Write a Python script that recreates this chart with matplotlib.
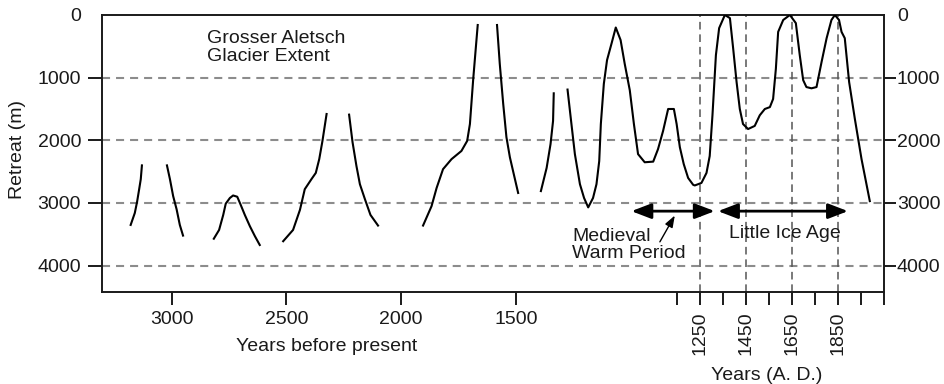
import matplotlib
matplotlib.use("Agg")
import matplotlib.pyplot as plt

plt.rcParams['font.family'] = ['Liberation Sans', 'DejaVu Sans']
plt.rcParams['font.size'] = 14
plt.rcParams['lines.scale_dashes'] = False

# glacier front retreat (m) vs calendar year (negative = BC), drawn as separate pieces
year_1 = [-1228, -1210, -1200, -1191, -1184, -1179]
retreat_1 = [3350, 3160, 2980, 2780, 2620, 2400]

year_2 = [-1070, -1057, -1043, -1028, -1014, -1000]
retreat_2 = [2400, 2620, 2890, 3100, 3350, 3520]

year_3 = [-866, -843, -825, -814, -796, -782, -764, -750, -731, -709, -687, -666]
retreat_3 = [3570, 3430, 3190, 3010, 2920, 2880, 2900, 3020, 3190, 3370, 3530, 3670]

year_4 = [-564, -521, -491, -470, -441, -422, -407, -393, -375]
retreat_4 = [3610, 3430, 3110, 2780, 2620, 2520, 2300, 2010, 1580]

year_5 = [-277, -262, -245, -230, -208, -184, -151]
retreat_5 = [1590, 2030, 2410, 2700, 2940, 3190, 3360]

year_6 = [45, 82, 104, 132, 169, 212, 237, 249, 263, 275, 283]
retreat_6 = [3360, 3050, 2760, 2460, 2300, 2170, 2010, 1740, 1040, 510, 160]

year_7 = [367, 379, 394, 408, 423, 440, 459]
retreat_7 = [160, 780, 1420, 1950, 2270, 2540, 2840]

year_8 = [558, 583, 600, 611, 614]
retreat_8 = [2810, 2440, 2060, 1690, 1250]

year_9 = [674, 691, 706, 728, 746, 764, 785, 800, 812, 819,
          832, 846, 866, 884, 905, 923, 945, 963, 981, 1010,
          1047, 1068, 1090, 1112, 1137, 1149, 1163, 1180, 1199, 1221,
          1228, 1257, 1279, 1293, 1305, 1320, 1334, 1359, 1381, 1395,
          1410, 1424, 1438, 1460, 1489, 1511, 1533, 1555, 1569, 1581,
          1591, 1613, 1642, 1668, 1685, 1700, 1714, 1736, 1758, 1780,
          1802, 1823, 1838, 1856, 1867, 1881, 1900, 1925, 1954, 1990]
retreat_9 = [1190, 1740, 2220, 2700, 2920, 3070, 2920, 2700, 2330, 1740,
             1100, 720, 450, 200, 400, 780, 1200, 1740, 2220, 2350,
             2340, 2140, 1850, 1500, 1500, 1740, 2110, 2380, 2600, 2710,
             2720, 2680, 2520, 2250, 1600, 640, 210, 0, 50, 530,
             1070, 1500, 1740, 1820, 1770, 1600, 1500, 1470, 1340, 860,
             270, 80, 0, 130, 640, 1040, 1150, 1170, 1150, 750,
             370, 80, 0, 80, 270, 370, 1070, 1660, 2300, 2970]

segments = [(year_1, retreat_1), (year_2, retreat_2), (year_3, retreat_3),
            (year_4, retreat_4), (year_5, retreat_5), (year_6, retreat_6),
            (year_7, retreat_7), (year_8, retreat_8), (year_9, retreat_9)]

present = 1950
bp_ticks = [3000, 2500, 2000, 1500]
ad_labelled = [1250, 1450, 1650, 1850]
ad_minor = list(range(1150, 2051, 100))
retreat_ticks = [0, 1000, 2000, 3000, 4000]

medieval_span = (952, 1315)
lia_span = (1329, 1895)
arrow_level = 3130

ink = '#1a1a1a'

fig = plt.figure(figsize=(9.44, 3.84), dpi=100)
ax = fig.add_axes([0.108, 0.2396, 0.828, 0.7214])

for r in retreat_ticks[1:]:
    ax.axhline(r, color='#8c8c8c', lw=1.5, dashes=(5.8, 4.3), zorder=1)
for yr in ad_labelled:
    ax.axvline(yr, color='#555555', lw=1.1, dashes=(5.5, 3.5), zorder=1)

for yrs, ret in segments:
    ax.plot(yrs, ret, color='black', lw=1.5, zorder=3)

ax.set_xlim(-1353, 2050)
ax.set_ylim(4420, 0)

# bottom axis: years BP on the left part, A.D. years (rotated) on the right part
ax.set_xticks([present - b for b in bp_ticks] + ad_labelled)
ax.set_xticklabels([str(b) for b in bp_ticks] + [str(a) for a in ad_labelled])
for lab in ax.get_xticklabels()[len(bp_ticks):]:
    lab.set_rotation(90)
ax.set_xticks(ad_minor, minor=True)
ax.tick_params(axis='x', which='both', direction='out', length=9, width=1.4,
               colors=ink, labelsize=14, pad=5)

ax.set_yticks(retreat_ticks)
ax.set_yticklabels([str(r) for r in retreat_ticks])
ax.tick_params(axis='y', direction='out', length=10, width=1.4,
               colors=ink, labelsize=14, pad=5)
ax.yaxis.get_major_ticks()[0].tick1line.set_visible(False)

ax_r = ax.secondary_yaxis('right')
ax_r.set_yticks(retreat_ticks)
ax_r.set_yticklabels([str(r) for r in retreat_ticks])
ax_r.tick_params(direction='out', length=8.5, width=1.4, colors=ink,
                 labelsize=14, pad=1)
ax_r.spines['right'].set_visible(False)
ax_r.yaxis.get_major_ticks()[0].tick2line.set_visible(False)

for s in ax.spines.values():
    s.set_linewidth(1.4)
    s.set_color(ink)

ax.text(-0.1075, 0.513, 'Retreat (m)', rotation=90, transform=ax.transAxes,
        ha='center', va='center', color=ink)
ax.text(0.2875, -0.195, 'Years before present', transform=ax.transAxes,
        ha='center', va='center', color=ink)
ax.text(0.85, -0.30, 'Years (A. D.)', transform=ax.transAxes,
        ha='center', va='center', color=ink)
ax.text(0.1339, 0.8827, 'Grosser Aletsch\nGlacier Extent', transform=ax.transAxes,
        ha='left', va='center', linespacing=1.05, color=ink)

ax.text(695, 3670, 'Medieval\nWarm Period', ha='left', va='center',
        linespacing=1.05, color=ink)
ax.text(1620, 3480, 'Little Ice Age', ha='center', va='center', color=ink)

head = dict(arrowstyle='<|-|>,head_length=0.6,head_width=0.23', color='black',
            lw=2, shrinkA=0, shrinkB=0, mutation_scale=20)
ax.annotate('', xy=(medieval_span[1], arrow_level), xytext=(medieval_span[0], arrow_level),
            arrowprops=head, zorder=4)
ax.annotate('', xy=(lia_span[1], arrow_level), xytext=(lia_span[0], arrow_level),
            arrowprops=head, zorder=4)
ax.annotate('', xy=(1141, 3200), xytext=(1076, 3620),
            arrowprops=dict(arrowstyle='-|>,head_length=0.5,head_width=0.18',
                            color='black', lw=1, shrinkA=0, shrinkB=0,
                            mutation_scale=14))

fig.savefig('out.png', dpi=100)
